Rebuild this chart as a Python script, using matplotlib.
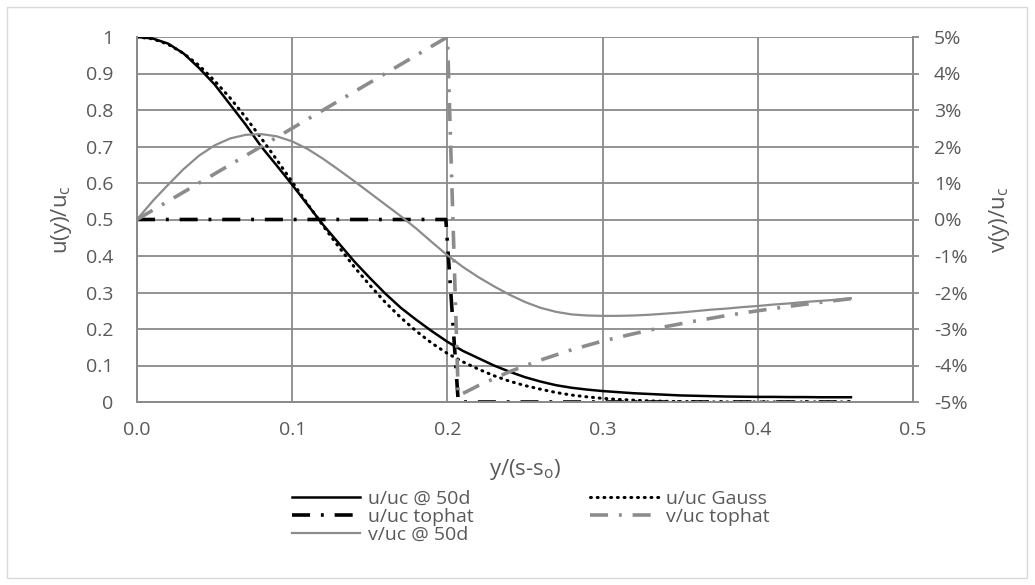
import matplotlib.pyplot as plt
from matplotlib.patches import Rectangle
from matplotlib.ticker import FuncFormatter

plt.rcParams['font.family'] = ['Open Sans', 'DejaVu Sans']

# common y/(s-so) stations for the 50d profiles
y_pos = [0.00, 0.01, 0.02, 0.03, 0.04, 0.05, 0.06, 0.07, 0.08, 0.09,
         0.10, 0.11, 0.12, 0.13, 0.14, 0.15, 0.16, 0.17, 0.18, 0.19,
         0.20, 0.21, 0.22, 0.23, 0.24, 0.25, 0.26, 0.27, 0.28, 0.29,
         0.30, 0.31, 0.32, 0.33, 0.34, 0.35, 0.36, 0.37, 0.38, 0.39,
         0.40, 0.41, 0.42, 0.43, 0.44, 0.45, 0.46]

# u/uc @ 50d
u50 = [1.0, 0.996, 0.982, 0.955, 0.915, 0.87, 0.815, 0.76, 0.70, 0.648,
       0.595, 0.54, 0.485, 0.435, 0.385, 0.34, 0.297, 0.258, 0.225, 0.194,
       0.165, 0.14, 0.12, 0.10, 0.083, 0.068, 0.056, 0.046, 0.039, 0.034,
       0.030, 0.027, 0.024, 0.022, 0.020, 0.018, 0.017, 0.016, 0.015, 0.0145,
       0.014, 0.014, 0.0135, 0.0135, 0.013, 0.013, 0.013]

# u/uc Gauss
u_gauss = [1.0, 0.995, 0.98, 0.955, 0.922, 0.88, 0.833, 0.78, 0.723, 0.664,
           0.603, 0.542, 0.482, 0.425, 0.37, 0.32, 0.273, 0.231, 0.194, 0.161,
           0.133, 0.11, 0.09, 0.072, 0.057, 0.045, 0.035, 0.026, 0.019, 0.014,
           0.01, 0.007, 0.005, 0.003, 0.002, 0.001, 0.001, 0.0, 0.0, 0.0,
           0.0, 0.0, 0.0, 0.0, 0.0, 0.0, 0.0]

# v/uc @ 50d (percent)
v50 = [0.0, 0.5, 0.95, 1.38, 1.75, 2.03, 2.22, 2.32, 2.34, 2.28,
       2.14, 1.93, 1.66, 1.36, 1.05, 0.73, 0.41, 0.09, -0.25, -0.62,
       -0.98, -1.3, -1.58, -1.83, -2.06, -2.26, -2.42, -2.53, -2.6, -2.63,
       -2.64, -2.64, -2.63, -2.61, -2.58, -2.55, -2.51, -2.47, -2.44, -2.4,
       -2.37, -2.33, -2.3, -2.26, -2.23, -2.2, -2.16]

# u/uc tophat
y_utop = [0.0, 0.199, 0.207, 0.46]
u_top = [0.5, 0.5, 0.0, 0.0]

# v/uc tophat (percent)
y_vtop = [0.0, 0.2, 0.207, 0.22, 0.24, 0.26, 0.28, 0.30, 0.32, 0.34, 0.36, 0.38,
          0.40, 0.42, 0.44, 0.46]
v_top = [0.0, 5.0, -4.83, -4.55, -4.17, -3.85, -3.57, -3.33, -3.13, -2.94, -2.78,
         -2.63, -2.5, -2.38, -2.27, -2.17]

txt = '#595959'
grid = '#8a8a8a'
vgray = '#8c8c8c'

fig = plt.figure(figsize=(10.35, 5.85), dpi=100)
ax = fig.add_axes([137/1035, 1-402/585, 776/1035, 365/585])
ax2 = ax.twinx()

h1, = ax.plot(y_pos, u50, color='black', lw=1.8, label='u/uc @ 50d')
h2, = ax.plot(y_pos, u_gauss, color='black', lw=2.2, dashes=(0.3, 1.9),
              dash_capstyle='round', label='u/uc Gauss')
h3, = ax.plot(y_utop, u_top, color='black', lw=2.6, dashes=(5, 3, 0.8, 3),
              dash_capstyle='butt', label='u/uc tophat')
h4, = ax2.plot(y_vtop, v_top, color=vgray, lw=2.6, dashes=(5, 3, 0.8, 3),
               dash_capstyle='butt', label='v/uc tophat')
h5, = ax2.plot(y_pos, v50, color=vgray, lw=1.6, label='v/uc @ 50d')

ax.set_xlim(0, 0.5)
ax.set_ylim(0, 1)
ax2.set_ylim(-5, 5)
ax.set_xticks([0, 0.1, 0.2, 0.3, 0.4, 0.5])
ax.set_yticks([i/10 for i in range(11)])
ax2.set_yticks(range(-5, 6))
ax.xaxis.set_major_formatter(FuncFormatter(lambda v, p: f'{v:.1f}'))
ax.yaxis.set_major_formatter(FuncFormatter(lambda v, p: f'{v:g}'))
ax2.yaxis.set_major_formatter(FuncFormatter(lambda v, p: f'{int(round(v))}%'))

ax.grid(True, color=grid, lw=1.3)
ax.set_axisbelow(True)
for a in (ax, ax2):
    a.spines['top'].set_visible(False)
    for s in ('left', 'right', 'bottom'):
        a.spines[s].set_color(grid)
        a.spines[s].set_linewidth(1.3)

ax.tick_params(axis='x', length=0, pad=14, labelsize=14, labelcolor=txt)
ax.tick_params(axis='y', length=0, pad=17, labelsize=14, labelcolor=txt)
ax2.tick_params(axis='y', length=4, width=1.3, color=grid, direction='out',
                pad=11, labelsize=14, labelcolor=txt)

ax.set_ylabel('u(y)/u$_\\mathregular{c}$', fontsize=16, color=txt)
ax2.set_ylabel('v(y)/u$_\\mathregular{c}$', fontsize=16, color=txt, rotation=90)
ax.set_xlabel('y/(s-s$_\\mathregular{o}$)', fontsize=16, color=txt)
ax.yaxis.set_label_coords((62-137)/776, 0.5)
ax2.yaxis.set_label_coords((1000-137)/776, 0.5)
ax.xaxis.set_label_coords(0.5, (402-470)/365)
for lab in (ax.yaxis.label, ax2.yaxis.label, ax.xaxis.label):
    lab.set_verticalalignment('center')
    lab.set_horizontalalignment('center')
    lab.set_rotation_mode('anchor')

leg = fig.legend(handles=[h1, h3, h5, h2, h4], ncol=2, loc='upper left',
                 bbox_to_anchor=(292/1035, 1-490/585), frameon=False,
                 fontsize=14, handlelength=3.5, handletextpad=0.41,
                 columnspacing=6.0, labelspacing=0.0, borderpad=0,
                 borderaxespad=0)
for t in leg.get_texts():
    t.set_color(txt)

fig.patches.append(Rectangle((7/1035, 7/585), 1020/1035, 571/585,
                             transform=fig.transFigure, fill=False,
                             edgecolor='#d9d9d9', lw=1))

fig.savefig('out.png', dpi=100)
